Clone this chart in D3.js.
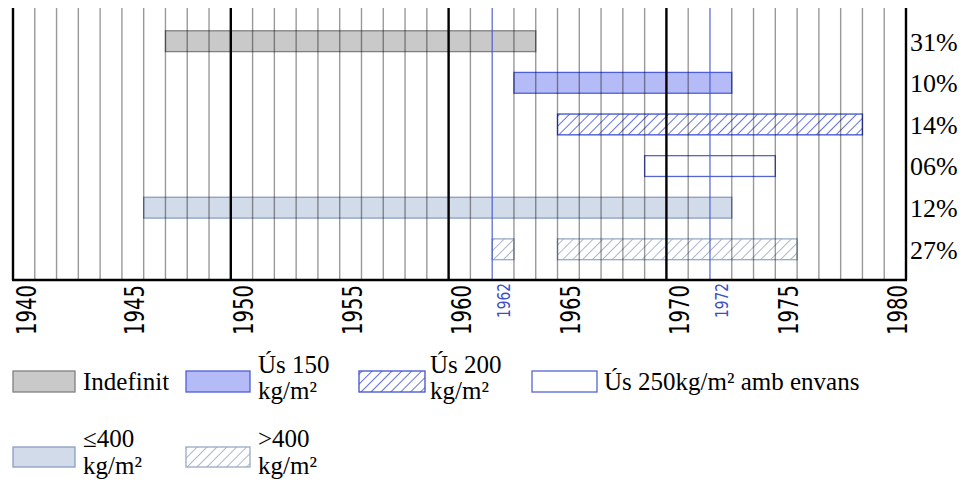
<!DOCTYPE html>
<html><head><meta charset="utf-8">
<script src="https://cdn.jsdelivr.net/npm/d3@7/dist/d3.min.js"></script>
<style>body{margin:0;background:#fff}svg{display:block}</style>
</head><body><svg id="c" width="962" height="484"></svg>
<script>
// ---- data ----
const rowLabels = ["31%", "10%", "14%", "06%", "12%", "27%"];
const rowCategory = ["indef", "u150", "u200", "u250", "le400", "gt400"];
const segStarts = [[1947], [1963], [1965], [1969], [1946], [1962, 1965]];
const segEnds   = [[1964], [1973], [1979], [1975], [1973], [1963, 1976]];
const tickYears = [1940, 1945, 1950, 1955, 1960, 1965, 1970, 1975, 1980];
const markYears = [1962, 1972];
const decadeYears = [1940, 1950, 1960, 1970];
const legendKeys = ["indef", "u150", "u200", "u250", "le400", "gt400"];
const legendLabels = [["Indefinit"], ["Ús 150", "kg/m²"], ["Ús 200", "kg/m²"], ["Ús 250kg/m² amb envans"], ["≤400", "kg/m²"], [">400", "kg/m²"]];

const styles = {
  indef: {fill: "#c9c9c9", stroke: "#808080"},
  u150:  {fill: "#b5bbf6", stroke: "#4f5fd6"},
  u200:  {fill: "url(#hatchBlue)", stroke: "#3f50d0"},
  u250:  {fill: "#ffffff", stroke: "#5565d4"},
  le400: {fill: "#d2dbea", stroke: "#8a9dc2"},
  gt400: {fill: "url(#hatchGrey)", stroke: "#98a9c4"}
};

const svg = d3.select("#c");
const defs = svg.append("defs");
function hatch(id, col) {
  const p = defs.append("pattern").attr("id", id).attr("patternUnits", "userSpaceOnUse")
    .attr("width", 7).attr("height", 7).attr("patternTransform", "rotate(45)");
  p.append("rect").attr("width", 7).attr("height", 7).attr("fill", "#fff");
  p.append("line").attr("x1", 0).attr("y1", 0).attr("x2", 0).attr("y2", 7)
    .attr("stroke", col).attr("stroke-width", 1.6);
}
hatch("hatchBlue", "#3f50d0");
hatch("hatchGrey", "#94a6c2");

const x = d3.scaleLinear().domain([1940, 1981]).range([13, 906]);
const y = d3.scaleBand().domain(d3.range(rowLabels.length)).range([10, 280.5]).paddingInner(0.5).paddingOuter(0.5);
const yTop = 8, yBot = 280;

// bars
const segs = [];
rowLabels.forEach((l, i) => segStarts[i].forEach((s, j) => segs.push({row: i, s: s, e: segEnds[i][j], cat: rowCategory[i]})));
svg.append("g").selectAll("rect").data(segs).join("rect")
  .attr("x", d => x(d.s)).attr("width", d => x(d.e) - x(d.s))
  .attr("y", d => y(d.row)).attr("height", y.bandwidth())
  .attr("fill", d => styles[d.cat].fill).attr("stroke", d => styles[d.cat].stroke).attr("stroke-width", 1.3);

// year gridlines
const allYears = d3.range(1941, 1981);
svg.append("g").selectAll("line").data(allYears.filter(v => !decadeYears.includes(v) && !markYears.includes(v))).join("line")
  .attr("x1", d => x(d)).attr("x2", d => x(d)).attr("y1", yTop).attr("y2", yBot)
  .attr("stroke", "#000").attr("stroke-opacity", 0.4).attr("stroke-width", 1.4);
svg.append("g").selectAll("line").data(markYears).join("line")
  .attr("x1", d => x(d)).attr("x2", d => x(d)).attr("y1", yTop).attr("y2", yBot)
  .attr("stroke", "#4455cc").attr("stroke-width", 1.1);
svg.append("g").selectAll("line").data(decadeYears.concat([1981])).join("line")
  .attr("x1", d => x(d)).attr("x2", d => x(d)).attr("y1", yTop).attr("y2", yBot)
  .attr("stroke", "#000").attr("stroke-width", 2.4);

// bottom axis
const ax = svg.append("g").attr("transform", `translate(0,${yBot})`)
  .call(d3.axisBottom(x).tickValues(tickYears).tickSize(0).tickFormat(d3.format("d")));
ax.select(".domain").attr("stroke", "#000").attr("stroke-width", 2.4).attr("d", `M${x(1940)-1},0H${x(1981)+1}`);
ax.selectAll("text").attr("fill", "#000").attr("font-family", "'DejaVu Sans', sans-serif").attr("font-size", 26)
  .attr("text-anchor", "end").attr("x", 0).attr("y", 0).attr("dy", 0)
  .attr("transform", "translate(22,5) rotate(-90)")
  .attr("textLength", 50).attr("lengthAdjust", "spacingAndGlyphs");

const ax2 = svg.append("g").attr("transform", `translate(0,${yBot})`)
  .call(d3.axisBottom(x).tickValues(markYears).tickSize(0).tickFormat(d3.format("d")));
ax2.select(".domain").remove();
ax2.selectAll("text").attr("fill", "#3c4fc4").attr("font-family", "'DejaVu Sans', sans-serif").attr("font-size", 17)
  .attr("text-anchor", "end").attr("x", 0).attr("y", 0).attr("dy", 0)
  .attr("transform", "translate(17.5,3) rotate(-90)")
  .attr("textLength", 35).attr("lengthAdjust", "spacingAndGlyphs");

// right labels
svg.append("g").selectAll("text").data(rowLabels).join("text")
  .attr("x", 910).attr("y", (d, i) => y(i) + y.bandwidth() - 1)
  .attr("font-family", "'Liberation Serif', 'Times New Roman', serif").attr("font-size", 26).attr("fill", "#000")
  .text(d => d);

// legend
const legPos = [
  {sx: 13, sw: 62, tx: 83, sy: 371, sh: 21, lines: [390]},
  {sx: 186, sw: 64, tx: 258, sy: 371, sh: 21, lines: [373, 399]},
  {sx: 359, sw: 66, tx: 430, sy: 371, sh: 21, lines: [373, 399]},
  {sx: 532, sw: 65, tx: 604, sy: 371, sh: 21, lines: [390]},
  {sx: 13, sw: 62, tx: 83, sy: 447, sh: 20, lines: [447, 474]},
  {sx: 186, sw: 64, tx: 258, sy: 447, sh: 20, lines: [447, 474]}
];
const leg = svg.append("g").selectAll("g").data(legendKeys).join("g");
leg.append("rect")
  .attr("x", (d, i) => legPos[i].sx).attr("y", (d, i) => legPos[i].sy)
  .attr("width", (d, i) => legPos[i].sw).attr("height", (d, i) => legPos[i].sh)
  .attr("fill", d => styles[d].fill).attr("stroke", d => styles[d].stroke).attr("stroke-width", 1.3);
leg.each(function(d, i) {
  const g = d3.select(this);
  legendLabels[i].forEach((t, k) => {
    g.append("text").attr("x", legPos[i].tx).attr("y", legPos[i].lines[k])
      .attr("font-family", "'Liberation Serif', 'Times New Roman', serif").attr("font-size", 25).attr("fill", "#000")
      .text(t);
  });
});
</script></body></html>
